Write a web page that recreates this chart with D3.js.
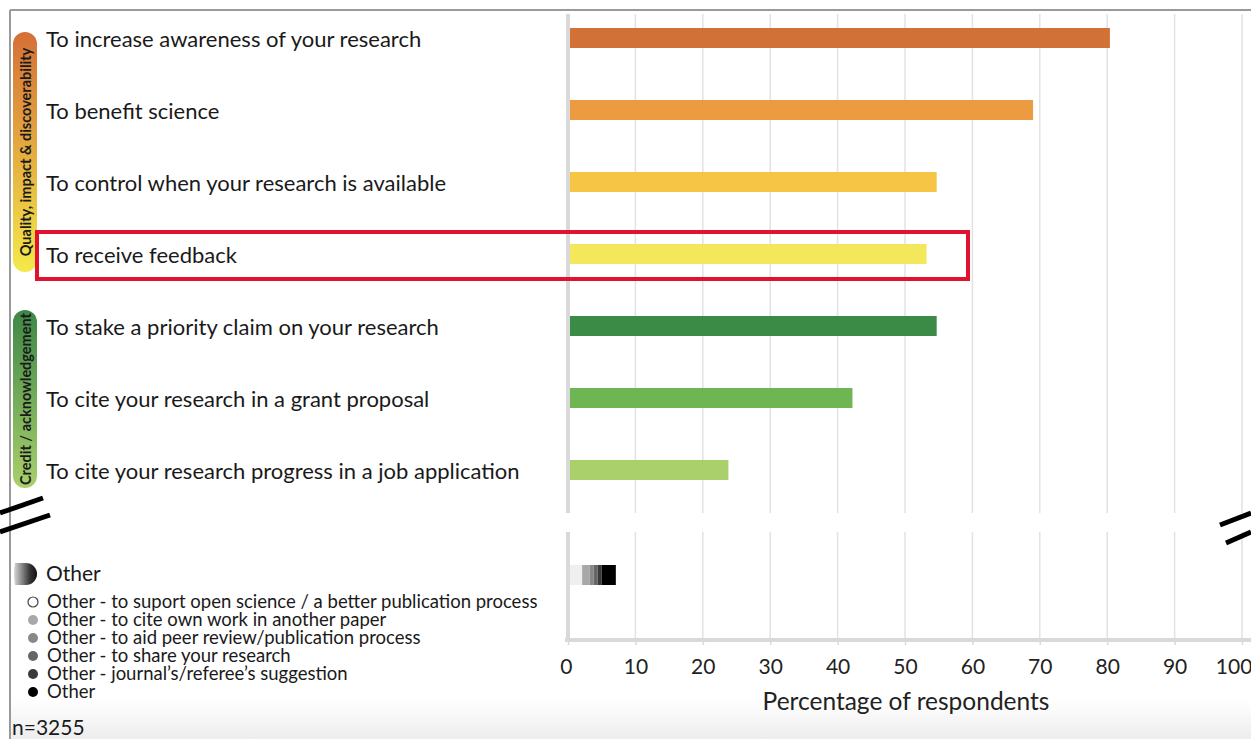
<!DOCTYPE html>
<html>
<head>
<meta charset="utf-8">
<script src="https://cdn.jsdelivr.net/npm/d3@7"></script>
<style>
  body { margin: 0; background: #fff; }
  svg { display: block; font-family: Lato, "Noto Sans", sans-serif; }
</style>
</head>
<body>
<div id="chart-area"></div>
<script>
// reasons for posting preprints, percentage of respondents
var reasons = [
  "To increase awareness of your research",
  "To benefit science",
  "To control when your research is available",
  "To receive feedback",
  "To stake a priority claim on your research",
  "To cite your research in a grant proposal",
  "To cite your research progress in a job application"
];
var percents = [80.4, 69.0, 54.7, 53.2, 54.7, 42.2, 23.8];
var barColors = ["#d17137", "#ec9b41", "#f6c546", "#f3e85c", "#3b8a46", "#6db653", "#a9d06b"];

var groups = ["Quality, impact & discoverability", "Credit / acknowledgement"];
var groupSpan = [[0, 3], [4, 6]];
var groupColors = [["#d56f36", "#f4e94a"], ["#3d8747", "#a9d06b"]];

var otherLabels = [
  "Other - to suport open science / a better publication process",
  "Other - to cite own work in another paper",
  "Other - to aid peer review/publication process",
  "Other - to share your research",
  "Other - journal\u2019s/referee\u2019s suggestion",
  "Other"
];
var otherValues = [1.8, 1.1, 0.6, 0.6, 0.6, 2.1];
var otherColors = ["#efefef", "#a8a8a8", "#888888", "#666666", "#3a3a3a", "#000000"];

var xTicks = [0, 10, 20, 30, 40, 50, 60, 70, 80, 90, 100];

var W = 1251, H = 739;
var svg = d3.select("#chart-area").append("svg")
    .attr("width", W)
    .attr("height", H);

var defs = svg.append("defs");

// bottom grey fade
var fade = defs.append("linearGradient").attr("id", "fade")
    .attr("x1", 0).attr("y1", 0).attr("x2", 0).attr("y2", 1);
fade.append("stop").attr("offset", "0%").attr("stop-color", "#ffffff");
fade.append("stop").attr("offset", "100%").attr("stop-color", "#ededed");
svg.append("rect").attr("x", 10).attr("y", 700).attr("width", W - 10).attr("height", H - 700)
    .attr("fill", "url(#fade)");

// frame
svg.append("line").attr("x1", 10).attr("x2", W).attr("y1", 10).attr("y2", 10)
    .attr("stroke", "#9a9a9a").attr("stroke-width", 2);
svg.append("line").attr("x1", 10).attr("x2", 10).attr("y1", 10).attr("y2", H)
    .attr("stroke", "#9a9a9a").attr("stroke-width", 2);

var x = d3.scaleLinear().domain([0, 100]).range([568, 1242]);
var y = d3.scalePoint().domain(reasons).range([38, 470]);
var barH = 20;

// gridlines, split by the axis break
var segs = [[14, 513], [532, 640]];
segs.forEach(function(s){
  svg.selectAll(null).data(xTicks.slice(1)).enter().append("line")
      .attr("x1", function(d){ return x(d); })
      .attr("x2", function(d){ return x(d); })
      .attr("y1", s[0]).attr("y2", s[1])
      .attr("stroke", "#e2e2e2").attr("stroke-width", 1.5);
  svg.append("line").attr("x1", x(0)).attr("x2", x(0)).attr("y1", s[0]).attr("y2", s[1])
      .attr("stroke", "#d9d9d9").attr("stroke-width", 4);
});

// x axis
var xAxis = d3.axisBottom(x).tickValues(xTicks).tickSize(5).tickPadding(14);
var gx = svg.append("g").attr("transform", "translate(0,640)").call(xAxis);
gx.select(".domain").attr("stroke", "#d9d9d9").attr("stroke-width", 4)
    .attr("d", "M" + (x(0) - 3) + ",0H" + W);
gx.selectAll(".tick line").attr("stroke", "#d9d9d9").attr("stroke-width", 1.5);
gx.selectAll(".tick text").attr("fill", "#222").style("font-size", "21px")
    .style("font-family", "Lato, sans-serif")
    .attr("dx", function(d){ return d === 100 ? "-0.4em" : (d === 0 ? "-0.1em" : 0); });
svg.append("text").attr("x", 906).attr("y", 710).attr("text-anchor", "middle")
    .attr("fill", "#222").style("font-size", "24.5px").text("Percentage of respondents");

// bars
svg.selectAll(".bar").data(reasons).enter().append("rect")
    .attr("class", "bar")
    .attr("x", x(0) + 2)
    .attr("y", function(d){ return y(d) - barH / 2; })
    .attr("width", function(d, i){ return x(percents[i]) - x(0) - 2; })
    .attr("height", barH)
    .attr("fill", function(d, i){ return barColors[i]; });

// category labels
svg.selectAll(".lab").data(reasons).enter().append("text")
    .attr("class", "lab")
    .attr("x", 46)
    .attr("y", function(d){ return y(d) + 9; })
    .attr("fill", "#1a1a1a")
    .style("font-size", "22px")
    .text(function(d){ return d; });

// group pills
groups.forEach(function(g, i){
  var gid = "pill" + i;
  var gr = defs.append("linearGradient").attr("id", gid)
      .attr("x1", 0).attr("y1", 0).attr("x2", 0).attr("y2", 1);
  gr.append("stop").attr("offset", "0%").attr("stop-color", groupColors[i][0]);
  gr.append("stop").attr("offset", "100%").attr("stop-color", groupColors[i][1]);
  var top = y(reasons[groupSpan[i][0]]) - (i === 0 ? 6 : 16);
  var bot = y(reasons[groupSpan[i][1]]) + 18;
  svg.append("rect").attr("x", 13).attr("y", top).attr("width", 24).attr("height", bot - top)
      .attr("rx", 12).attr("fill", "url(#" + gid + ")");
  svg.append("text")
      .attr("transform", "translate(30.5," + ((top + bot) / 2) + ") rotate(-90)")
      .attr("text-anchor", "middle")
      .attr("fill", "#1a1a1a")
      .style("font-size", "14.5px").style("font-weight", "bold")
      .text(g);
});

// highlight box
svg.append("rect").attr("x", 37).attr("y", 232).attr("width", 931).attr("height", 47)
    .attr("fill", "none").attr("stroke", "#e0122f").attr("stroke-width", 4);

// "Other" stacked bar
var stackStart = d3.cumsum([0].concat(otherValues));
svg.selectAll(".oth").data(otherValues).enter().append("rect")
    .attr("class", "oth")
    .attr("x", function(d, i){ return x(stackStart[i]) + 2; })
    .attr("y", 565)
    .attr("width", function(d){ return x(d) - x(0); })
    .attr("height", barH)
    .attr("fill", function(d, i){ return otherColors[i]; });

// Other legend
var half = defs.append("linearGradient").attr("id", "half");
half.append("stop").attr("offset", "0%").attr("stop-color", "#d8d8d8");
half.append("stop").attr("offset", "70%").attr("stop-color", "#333");
half.append("stop").attr("offset", "100%").attr("stop-color", "#111");
svg.append("path")
    .attr("d", "M15,563 L26,563 A11,11 0 0 1 26,585 L15,585 Q13,574 15,563 Z")
    .attr("fill", "url(#half)");
svg.append("text").attr("x", 46).attr("y", 581).attr("fill", "#1a1a1a")
    .style("font-size", "21px").text("Other");

var legY = d3.scalePoint().domain(otherLabels).range([602, 692]);
svg.selectAll(".lc").data(otherLabels).enter().append("circle")
    .attr("cx", 33).attr("cy", function(d){ return legY(d); }).attr("r", 5)
    .attr("fill", function(d, i){ return i === 0 ? "#fff" : otherColors[i]; })
    .attr("stroke", function(d, i){ return i === 0 ? "#444" : "none"; })
    .attr("stroke-width", 1.2);
svg.selectAll(".lt").data(otherLabels).enter().append("text")
    .attr("x", 47).attr("y", function(d){ return legY(d) + 6; })
    .attr("fill", "#1a1a1a").style("font-size", "18.5px")
    .text(function(d){ return d; });

svg.append("text").attr("x", 12).attr("y", 735).attr("fill", "#1a1a1a")
    .style("font-size", "21px").text("n=3255");

// axis-break marks
var breaks = [[[0, 513], [43, 498]], [[0, 532], [50, 515]],
              [[1220, 525], [1251, 513]], [[1226, 543], [1251, 532]]];
svg.selectAll(".brk").data(breaks).enter().append("line")
    .attr("x1", function(d){ return d[0][0]; }).attr("y1", function(d){ return d[0][1]; })
    .attr("x2", function(d){ return d[1][0]; }).attr("y2", function(d){ return d[1][1]; })
    .attr("stroke", "#000").attr("stroke-width", 5);
</script>
</body>
</html>
